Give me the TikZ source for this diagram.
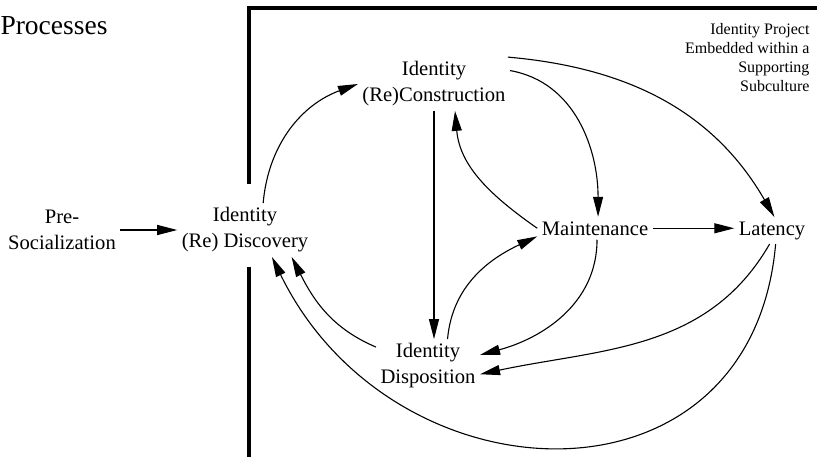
\documentclass[tikz,border=0pt]{standalone}
\usepackage{fontspec}
\setmainfont{Liberation Serif}
\usetikzlibrary{arrows.meta}
\begin{document}
\begin{tikzpicture}[x=0.5pt, y=0.5pt, every node/.style = {align=center, inner sep=2pt, font=\fontsize{10.3}{13}\selectfont},
line width=0.55pt, >={Triangle[length=10pt,width=5pt]}]
	\tikzstyle{frame} = [line width=2pt]
	\tikzstyle{note} = [align=right, anchor=north east, inner sep=0pt, font=\fontsize{8}{9.5}\selectfont]
	\tikzstyle{heading} = [anchor=base west, inner sep=0pt, font=\fontsize{13.75}{16}\selectfont]
	\useasboundingbox (0,0) rectangle (817,461);
	\node[heading] (head) at (0,426) {Processes};
	\node[note] (proj) at (810,438) {Identity Project\\Embedded within a\\Supporting\\Subculture};
	\draw[frame] (249,277) -- (249,453) -- (819,453);
	\draw[frame] (249,194) -- (249,4);
	\node (pre) at (62,231) {Pre-\\Socialization};
	\node (disc) at (245,231) {Identity\\(Re) Discovery};
	\node (cons) at (434,377) {Identity\\(Re)Construction};
	\node[anchor=base] (main) at (595,226) {Maintenance};
	\node[anchor=base] (lat) at (772,226) {Latency};
	\node (disp) at (428,95) {Identity\\Disposition};
	\draw[->] (pre) -- (disc);
	\draw[->] (disc.56) to[out=85, in=200] (cons.west);
	\draw[->] (cons.south) -- (cons.south |- disp.north);
	\draw[->] (main.west) to[out=145, in=-85] (cons.-52);
	\draw[->] (disp.54) to[out=85, in=205] (main.188);
	\draw[->] (cons.10) to[out=-10, in=90] (main.75);
	\draw[->] (main.-80) to[out=-90, in=15] (disp.12);
	\draw[->] (main.east) -- (lat.west |- main.east);
	\draw[->] (cons.20) to[out=-5, in=120] (lat.80);
	\draw[->] (lat.-100) to[out=-120, in=12] (disp.-9);
	\draw[->] (lat.-75) to[out=-95, in=-64, looseness=1.4] (disc.-45);
	\draw[->] (disp.160) to[out=157, in=-63] (disc.-30);
\end{tikzpicture}
\end{document}
